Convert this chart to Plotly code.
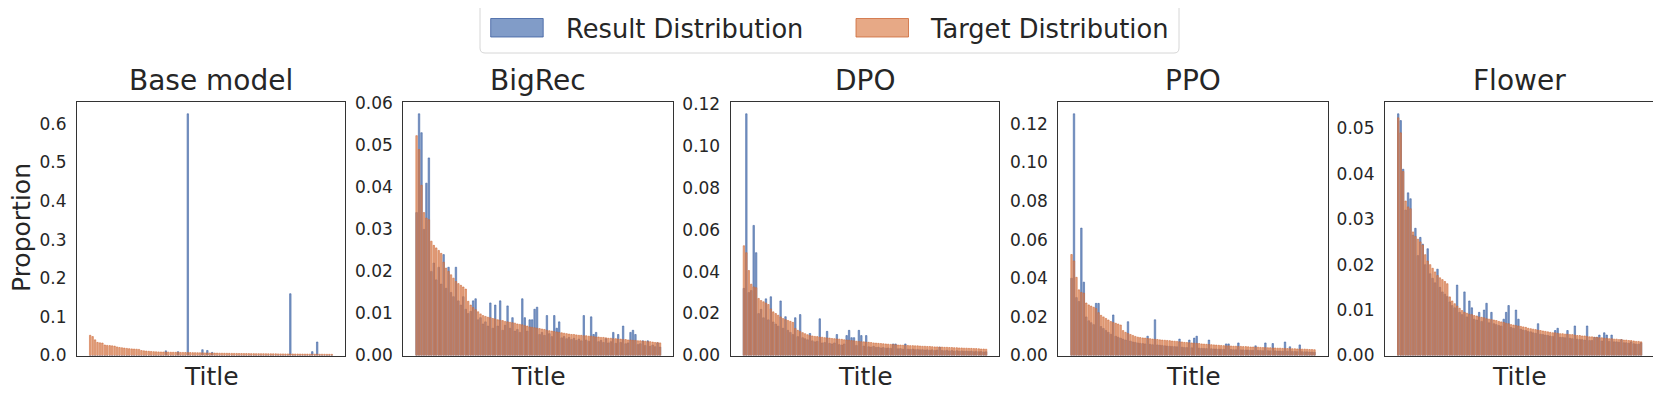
import plotly.graph_objects as go

models = ["Base model", "BigRec", "DPO", "PPO", "Flower"]
titles = list(range(100))
legend_names = ["Result Distribution", "Target Distribution"]

target = [
    0.0523, 0.0490, 0.0405, 0.0340, 0.0327, 0.0323, 0.0272, 0.0262, 0.0256, 0.0250,
    0.0243, 0.0222, 0.0208, 0.0200, 0.0192, 0.0184, 0.0176, 0.0171, 0.0167, 0.0163,
    0.0158, 0.0129, 0.0120, 0.0114, 0.0109, 0.0104, 0.0099, 0.0095, 0.0093, 0.0091,
    0.0090, 0.0088, 0.0087, 0.0085, 0.0084, 0.0083, 0.0081, 0.0080, 0.0079, 0.0078,
    0.0077, 0.0075, 0.0074, 0.0073, 0.0071, 0.0070, 0.0068, 0.0067, 0.0066, 0.0065,
    0.0064, 0.0063, 0.0062, 0.0060, 0.0059, 0.0058, 0.0057, 0.0056, 0.0055, 0.0054,
    0.0053, 0.0052, 0.0051, 0.0050, 0.0050, 0.0049, 0.0048, 0.0048, 0.0047, 0.0047,
    0.0046, 0.0046, 0.0045, 0.0044, 0.0044, 0.0043, 0.0043, 0.0042, 0.0041, 0.0041,
    0.0040, 0.0040, 0.0039, 0.0039, 0.0038, 0.0038, 0.0037, 0.0037, 0.0036, 0.0036,
    0.0035, 0.0035, 0.0034, 0.0034, 0.0033, 0.0033, 0.0032, 0.0031, 0.0031, 0.0030,
]

base_result = [
    0, 0, 0, 0, 0, 0, 0, 0, 0, 0,
    0, 0, 0, 0, 0, 0, 0, 0, 0, 0,
    0, 0, 0, 0, 0, 0, 0, 0, 0, 0,
    0, 0.012, 0, 0, 0, 0, 0.010, 0, 0, 0,
    0.626, 0, 0, 0, 0, 0, 0.015, 0, 0.013, 0,
    0.008, 0, 0, 0, 0, 0, 0, 0, 0, 0,
    0, 0, 0, 0, 0, 0, 0, 0, 0, 0,
    0, 0, 0, 0, 0, 0, 0, 0, 0, 0,
    0, 0, 0.160, 0, 0, 0, 0, 0, 0, 0,
    0, 0.010, 0, 0.035, 0, 0, 0, 0, 0, 0,
]

bigrec_result = [
    0.0340, 0.0575, 0.0530, 0.0300, 0.0410, 0.0470, 0.0200, 0.0220, 0.0180, 0.0210,
    0.0170, 0.0240, 0.0160, 0.0210, 0.0150, 0.0140, 0.0210, 0.0130, 0.0120, 0.0140,
    0.0110, 0.0100, 0.0105, 0.0130, 0.0135, 0.0085, 0.0090, 0.0075, 0.0080, 0.0070,
    0.0125, 0.0065, 0.0120, 0.0070, 0.0130, 0.0060, 0.0072, 0.0118, 0.0065, 0.0090,
    0.0058, 0.0062, 0.0055, 0.0135, 0.0090, 0.0058, 0.0085, 0.0085, 0.0110, 0.0115,
    0.0050, 0.0055, 0.0048, 0.0095, 0.0052, 0.0045, 0.0095, 0.0065, 0.0080, 0.0042,
    0.0045, 0.0040, 0.0043, 0.0038, 0.0041, 0.0036, 0.0039, 0.0035, 0.0095, 0.0037,
    0.0034, 0.0092, 0.0050, 0.0055, 0.0033, 0.0036, 0.0031, 0.0040, 0.0030, 0.0033,
    0.0055, 0.0029, 0.0050, 0.0031, 0.0070, 0.0028, 0.0030, 0.0055, 0.0060, 0.0050,
    0.0026, 0.0028, 0.0035, 0.0024, 0.0035, 0.0022, 0.0025, 0.0021, 0.0030, 0.0020,
]

dpo_result = [
    0.0320, 0.1152, 0.0300, 0.0310, 0.0620, 0.0490, 0.0200, 0.0220, 0.0180, 0.0270,
    0.0170, 0.0280, 0.0160, 0.0150, 0.0140, 0.0260, 0.0130, 0.0185, 0.0120, 0.0110,
    0.0100, 0.0180, 0.0090, 0.0195, 0.0085, 0.0080, 0.0075, 0.0105, 0.0070, 0.0065,
    0.0068, 0.0175, 0.0060, 0.0062, 0.0115, 0.0058, 0.0055, 0.0060, 0.0100, 0.0052,
    0.0050, 0.0055, 0.0095, 0.0120, 0.0085, 0.0085, 0.0048, 0.0120, 0.0095, 0.0045,
    0.0095, 0.0042, 0.0040, 0.0044, 0.0038, 0.0040, 0.0036, 0.0038, 0.0035, 0.0036,
    0.0034, 0.0055, 0.0055, 0.0032, 0.0033, 0.0030, 0.0055, 0.0030, 0.0029, 0.0031,
    0.0028, 0.0029, 0.0027, 0.0028, 0.0026, 0.0027, 0.0025, 0.0027, 0.0024, 0.0026,
    0.0040, 0.0024, 0.0023, 0.0025, 0.0022, 0.0024, 0.0021, 0.0023, 0.0020, 0.0022,
    0.0020, 0.0021, 0.0019, 0.0021, 0.0018, 0.0020, 0.0018, 0.0019, 0.0017, 0.0018,
]

ppo_result = [
    0.0400, 0.1252, 0.0300, 0.0280, 0.0660, 0.0380, 0.0200, 0.0180, 0.0170, 0.0160,
    0.0270, 0.0270, 0.0150, 0.0140, 0.0130, 0.0120, 0.0110, 0.0210, 0.0100, 0.0095,
    0.0090, 0.0085, 0.0080, 0.0175, 0.0075, 0.0070, 0.0068, 0.0065, 0.0063, 0.0062,
    0.0060, 0.0100, 0.0058, 0.0056, 0.0185, 0.0055, 0.0053, 0.0052, 0.0050, 0.0049,
    0.0048, 0.0047, 0.0046, 0.0045, 0.0085, 0.0043, 0.0042, 0.0041, 0.0080, 0.0040,
    0.0090, 0.0100, 0.0038, 0.0037, 0.0036, 0.0036, 0.0080, 0.0035, 0.0034, 0.0034,
    0.0033, 0.0033, 0.0032, 0.0060, 0.0060, 0.0031, 0.0030, 0.0030, 0.0065, 0.0029,
    0.0029, 0.0028, 0.0028, 0.0027, 0.0027, 0.0050, 0.0026, 0.0026, 0.0025, 0.0065,
    0.0025, 0.0024, 0.0062, 0.0024, 0.0023, 0.0023, 0.0022, 0.0070, 0.0022, 0.0045,
    0.0021, 0.0021, 0.0020, 0.0055, 0.0020, 0.0019, 0.0019, 0.0018, 0.0018, 0.0017,
]

flower_result = [
    0.0532, 0.0517, 0.0410, 0.0320, 0.0358, 0.0345, 0.0265, 0.0280, 0.0220, 0.0260,
    0.0245, 0.0200, 0.0235, 0.0180, 0.0170, 0.0160, 0.0190, 0.0150, 0.0140, 0.0135,
    0.0130, 0.0118, 0.0110, 0.0105, 0.0155, 0.0095, 0.0090, 0.0140, 0.0085, 0.0120,
    0.0105, 0.0080, 0.0078, 0.0095, 0.0075, 0.0100, 0.0115, 0.0072, 0.0095, 0.0070,
    0.0068, 0.0066, 0.0065, 0.0080, 0.0095, 0.0110, 0.0062, 0.0060, 0.0100, 0.0080,
    0.0058, 0.0056, 0.0055, 0.0053, 0.0052, 0.0050, 0.0049, 0.0070, 0.0047, 0.0046,
    0.0045, 0.0044, 0.0043, 0.0042, 0.0055, 0.0060, 0.0040, 0.0040, 0.0039, 0.0055,
    0.0038, 0.0037, 0.0065, 0.0036, 0.0035, 0.0035, 0.0034, 0.0065, 0.0033, 0.0033,
    0.0040, 0.0040, 0.0045, 0.0032, 0.0050, 0.0045, 0.0031, 0.0045, 0.0030, 0.0030,
    0.0029, 0.0035, 0.0028, 0.0028, 0.0027, 0.0030, 0.0026, 0.0025, 0.0025, 0.0028,
]

results = [base_result, bigrec_result, dpo_result, ppo_result, flower_result]
y_ticks = [0.1, 0.01, 0.02, 0.02, 0.01]
y_fmt = [".1f", ".2f", ".2f", ".2f", ".2f"]

# seaborn deep blue / orange at alpha 0.7, slightly darker edges
blue = "rgba(76,114,176,0.7)"
blue_edge = "rgba(60,95,160,0.8)"
orange = "rgba(221,132,82,0.7)"
orange_edge = "rgba(205,105,55,0.8)"
text_color = "#262626"
spine = "#333333"
font = "DejaVu Sans"

W, H = 1661, 396
OFF = 8  # page body margin shifts the figure by 8px, compensate


def px(x, y):
    return (x - OFF) / W, (H - (y - OFF)) / H


panels_px = [(77, 345), (403.3, 673.3), (730.7, 999.3), (1058.3, 1327.7), (1385, 1654.3)]
top_px, bottom_px = 101.7, 355.5
y_dom = [px(0, bottom_px)[1], px(0, top_px)[1]]

fig = go.Figure()
layout = {}
annotations = []

for i, (name, res) in enumerate(zip(models, results)):
    n = "" if i == 0 else str(i + 1)
    series = [(res, blue, blue_edge, legend_names[0]), (target, orange, orange_edge, legend_names[1])]
    for vals, color, edge, lname in series:
        fig.add_trace(go.Bar(
            x=titles, y=vals, width=0.6, name=lname, showlegend=False,
            marker=dict(color=color, line=dict(color=edge, width=0.7)),
            xaxis="x" + n, yaxis="y" + n,
        ))
    ymax = max(max(res), max(target)) * 1.05
    l, r = panels_px[i]
    layout["xaxis" + n] = dict(
        domain=[px(l, 0)[0], px(r, 0)[0]], range=[-5.4, 104.4], anchor="y" + n,
        showticklabels=False, ticks="", showgrid=False, zeroline=False, automargin=False,
        showline=True, mirror=True, linecolor=spine, linewidth=1.25,
    )
    layout["yaxis" + n] = dict(
        domain=y_dom, range=[0, ymax], anchor="x" + n,
        dtick=y_ticks[i], tick0=0, tickformat=y_fmt[i], ticks="",
        ticklabelstandoff=6, automargin=False,
        tickfont=dict(size=17, color=text_color, family=font),
        showgrid=False, zeroline=False,
        showline=True, mirror=True, linecolor=spine, linewidth=1.25,
    )
    cx = px((l + r) / 2, 0)[0]
    annotations.append(dict(
        text=name, x=cx, y=y_dom[1], xref="paper", yref="paper",
        xanchor="center", yanchor="bottom", yshift=3, showarrow=False,
        font=dict(size=28, color=text_color, family=font),
    ))
    annotations.append(dict(
        text="Title", x=cx, y=px(0, 376)[1], xref="paper", yref="paper",
        xanchor="center", yanchor="middle", showarrow=False,
        font=dict(size=25, color=text_color, family=font),
    ))

lx, ly = px(21, 228)
annotations.append(dict(
    text="Proportion", x=lx, y=ly, xref="paper", yref="paper",
    xanchor="center", yanchor="middle", textangle=-90, showarrow=False, borderpad=0,
    font=dict(size=25, color=text_color, family=font),
))

# legend box drawn by hand to get matplotlib-style wide patches
shapes = []
bx0, by0, bx1, by1, rad = 480, 3, 1179, 53, 5
pts = [
    ("M", [(bx0 + rad, by0)]), ("L", [(bx1 - rad, by0)]), ("Q", [(bx1, by0), (bx1, by0 + rad)]),
    ("L", [(bx1, by1 - rad)]), ("Q", [(bx1, by1), (bx1 - rad, by1)]),
    ("L", [(bx0 + rad, by1)]), ("Q", [(bx0, by1), (bx0, by1 - rad)]),
    ("L", [(bx0, by0 + rad)]), ("Q", [(bx0, by0), (bx0 + rad, by0)]),
]
path = " ".join(
    cmd + " " + " ".join("{:.5f},{:.5f}".format(*px(a, b)) for a, b in coords)
    for cmd, coords in pts
) + " Z"
shapes.append(dict(type="path", xref="paper", yref="paper", path=path,
                   fillcolor="white", line=dict(color="#d6d6d6", width=1)))

legend_items = [(490.7, 564, blue, blue_edge, legend_names[0]),
                (856, 928, orange, orange_edge, legend_names[1])]
for patch_x, text_x, color, edge, lname in legend_items:
    x0, y0 = px(patch_x, 37)
    x1, y1 = px(patch_x + 52.5, 18.5)
    shapes.append(dict(type="rect", xref="paper", yref="paper", x0=x0, y0=y0, x1=x1, y1=y1,
                       fillcolor=color, line=dict(color=edge, width=1)))
    tx, ty = px(text_x, 28.5)
    annotations.append(dict(
        text=lname, x=tx, y=ty, xref="paper", yref="paper",
        xanchor="left", yanchor="middle", showarrow=False,
        font=dict(size=25.7, color=text_color, family=font),
    ))

fig.update_layout(
    **layout,
    annotations=annotations,
    shapes=shapes,
    barmode="overlay",
    showlegend=False,
    width=W, height=H,
    margin=dict(l=0, r=0, t=0, b=0, autoexpand=False),
    paper_bgcolor="white", plot_bgcolor="white",
    font=dict(family=font, color=text_color),
)

fig.write_html("out.html")
